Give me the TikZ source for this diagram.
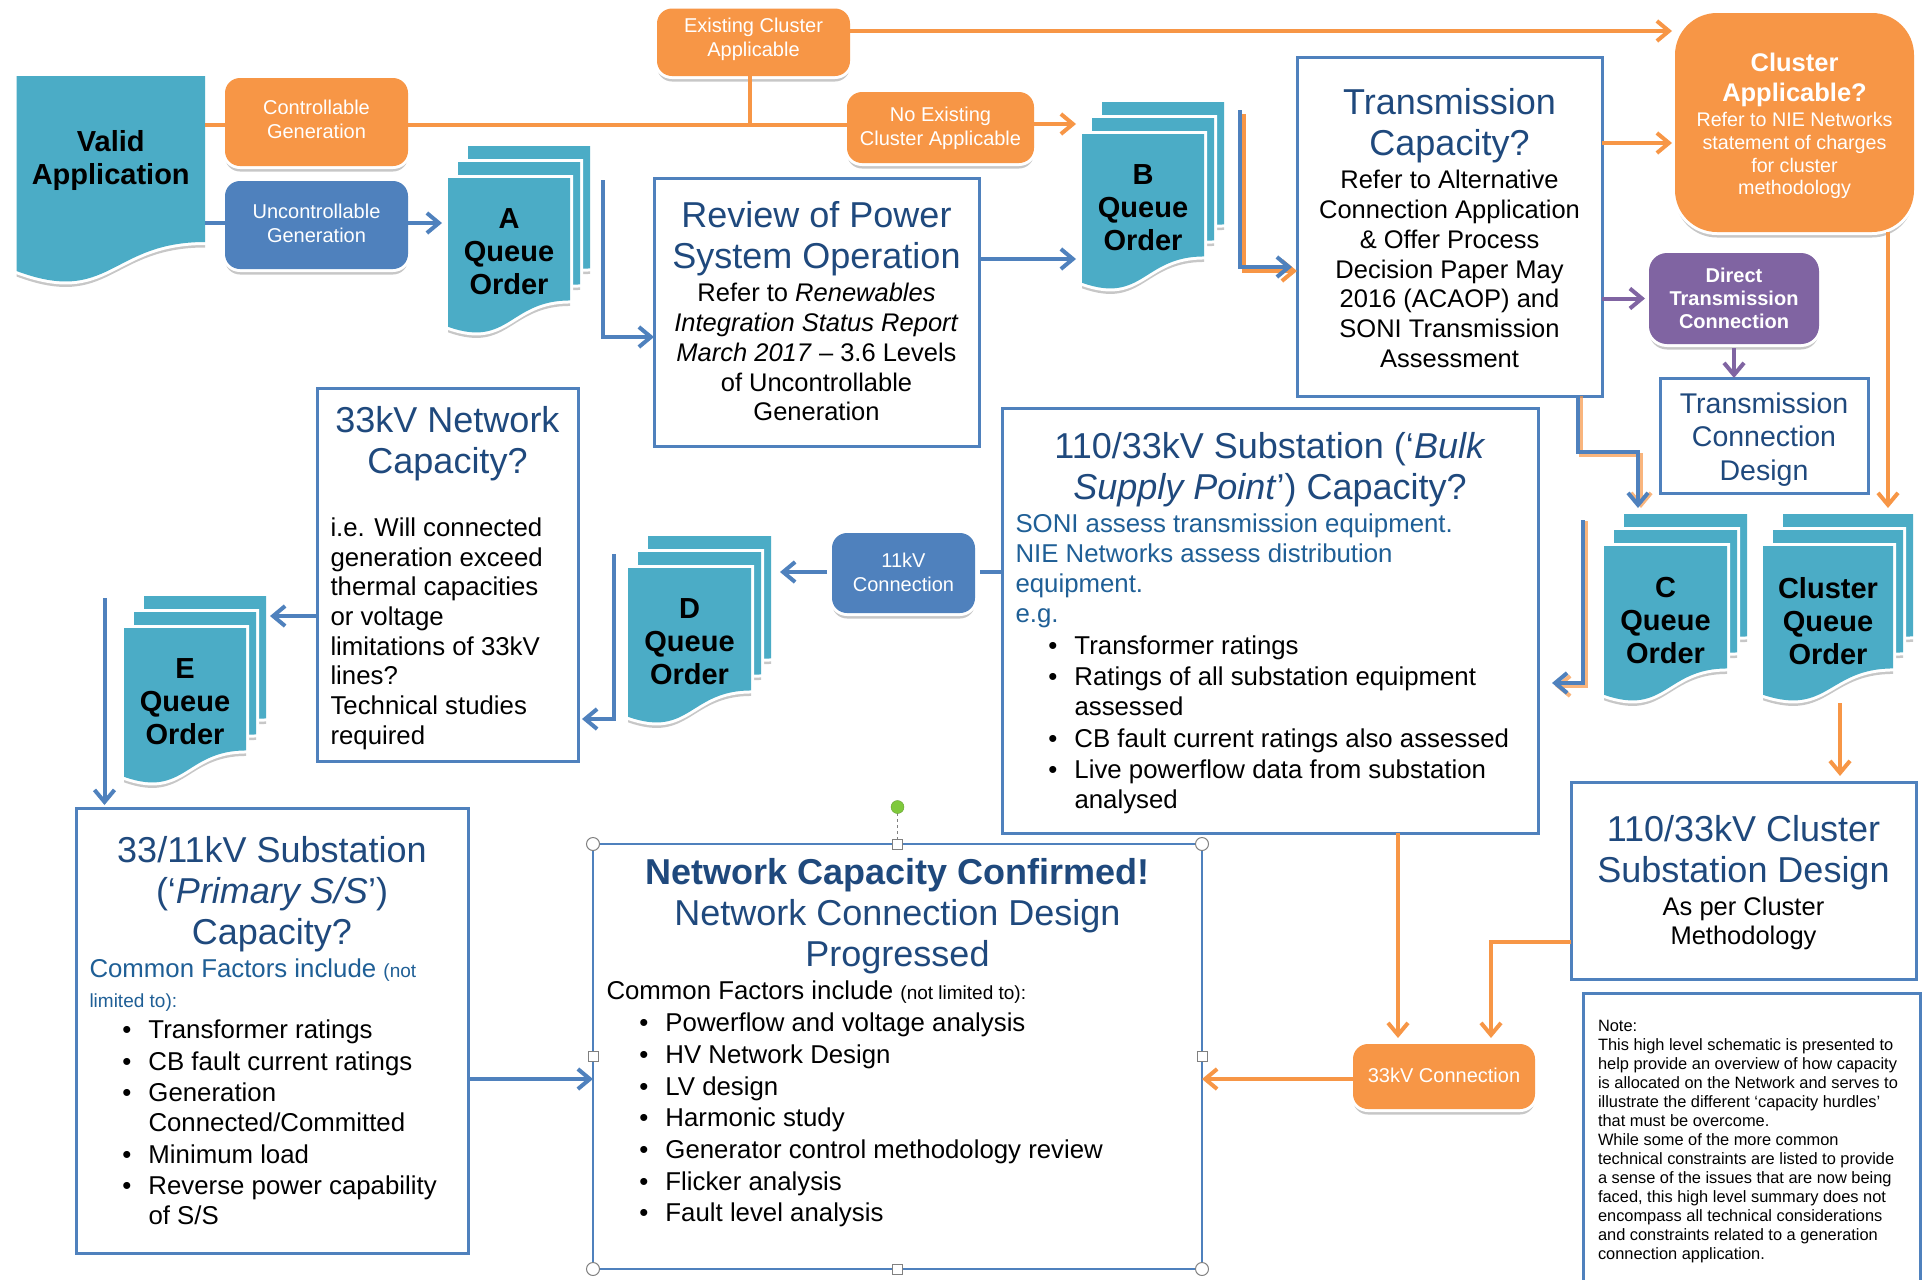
\documentclass[tikz,border=0pt]{standalone}
\usepackage{fontspec}
\setmainfont{Liberation Sans}
\usetikzlibrary{arrows.meta,shadows}
\definecolor{tb}{HTML}{1F497D}
\definecolor{mb}{HTML}{1F5F96}
\definecolor{ob}{HTML}{4F81BD}
\definecolor{oo}{HTML}{F79646}
\definecolor{pu}{HTML}{8064A2}
\definecolor{te}{HTML}{4BACC6}
\definecolor{gr}{HTML}{7FC93C}
\tikzset{
  bx/.style={rectangle,draw=ob,line width=3pt,fill=white,inner sep=0pt,outer sep=0pt},
  nb/.style={rectangle,inner sep=0pt,outer sep=0pt},
  shad/.style={drop shadow={shadow xshift=0pt,shadow yshift=-5.5pt,fill=black!40,opacity=.55}},
  wedge/.style={preaction={draw=white,line width=6pt}},
  btn/.style={rectangle,rounded corners=15pt,inner sep=0pt,outer sep=0pt,shad,wedge,text=white},
  doc/.style={shad,wedge,fill=te},
  ln/.style={line width=4pt},
  arr/.style={line width=4pt,-{Straight Barb[length=12pt,width=20pt]}},
  hcirc/.style={circle,draw=black!50,fill=white,line width=1pt,minimum size=13pt,inner sep=0pt},
  hsq/.style={rectangle,draw=black!50,fill=white,line width=1pt,minimum size=10pt,inner sep=0pt},
}
\newcommand\tbox[7][bx]{\node[#1,minimum width=#5pt,minimum height=#6pt] (#2) at ({#3+#5/2},{#4+#6/2}) {\parbox[c][#6pt][t]{#5pt}{\parindent=0pt #7}};}
\newcommand\ttl[1]{{\fontsize{36}{41}\selectfont\color{tb}\centering #1\par}}
\newcommand\bdy[1]{{\fontsize{25.5}{29.7}\selectfont\centering #1\par}}
\newcommand\lft[2][black]{{\fontsize{25.8}{29.7}\selectfont\color{#1}\raggedright\leftskip=13.5pt #2\par}}
\newcommand\itm[1]{{\fontsize{25.8}{29.7}\selectfont\raggedright\leftskip=72.5pt\noindent\llap{\textbullet\hspace{17pt}}#1\par}\vspace{2pt}}
\newcommand\sml[1]{{\fontsize{19}{29.7}\selectfont #1}}
\newcommand\btxt[2][0]{\vspace*{\fill}{\fontsize{20}{24}\selectfont\centering #2\par}\vspace{#1pt}\vspace*{\fill}}
\newcommand\gp[1]{\vspace{#1pt}}
\newcommand\docpath[4]{\path[doc] (#1,#2) -- ({#1+#3},#2) -- ({#1+#3},{#2+.79*#4}) .. controls ({#1+.5*#3},{#2+.79*#4}) and ({#1+.5*#3},{#2+1.1*#4}) .. (#1,{#2+.96*#4}) -- cycle;}
\newcommand\qtxt[1]{\vspace*{31pt}{\fontsize{29}{33}\selectfont\bfseries\centering #1\par}}
\newcommand\queue[5]{%
  \docpath{#2+20}{#3-32}{#4}{155}
  \docpath{#2+10}{#3-16}{#4}{155}
  \docpath{#2}{#3}{#4}{155}
  \tbox[nb]{#1}{#2}{#3}{#4}{155}{\qtxt{#5}}
}
\begin{document}
\begin{tikzpicture}[x=1pt,y=-1pt]
\useasboundingbox (0,0) rectangle (1923,1280);
% Valid application
\path[doc] (16.5,76) -- (205,76) -- (205,242) .. controls (110,242) and (110,306) .. (16.5,271) -- cycle;
\tbox[nb]{va}{16.5}{76}{188.5}{208}{\vspace*{54.5pt}{\fontsize{29}{33}\selectfont\bfseries\centering Valid\\Application\par}}
% buttons
\tbox[btn,fill=oo]{ctrl}{225}{78}{183}{88}{\btxt[5]{Controllable\\Generation}}
\tbox[btn,fill=ob]{unc}{225}{181}{183}{88}{\btxt[4]{Uncontrollable\\Generation}}
\tbox[btn,fill=oo]{exist}{657}{8.5}{193}{67.5}{\btxt[5]{Existing Cluster\\Applicable}}
\tbox[btn,fill=oo]{noex}{847}{92}{187}{71}{\btxt[-2.4]{No Existing\\Cluster Applicable}}
\tbox[btn,fill=pu,rounded corners=18pt]{dir}{1649}{253}{170}{91}{\vspace*{\fill}{\fontsize{20}{23}\selectfont\bfseries\centering Direct\\Transmission\\Connection\par}\vspace*{\fill}}
\tbox[btn,fill=oo,rounded corners=42pt]{clu}{1675}{13}{239}{219}{\vspace*{40.2pt}{\fontsize{25.5}{30}\selectfont\bfseries\centering Cluster\\Applicable?\par}\gp{2}{\fontsize{19.7}{22.8}\selectfont\centering Refer to NIE Networks\\statement of charges\\for cluster\\methodology\par}}
\tbox[btn,fill=ob]{elev}{832}{533}{143}{80}{\btxt[2]{11kV\\Connection}}
\tbox[btn,fill=oo]{c33}{1353}{1044}{182}{65}{\btxt[2]{33kV Connection}}
% queues
\queue{qa}{448}{178}{122}{A\\Queue\\Order}
\queue{qb}{1082}{134}{122}{B\\Queue\\Order}
\queue{qc}{1604}{546}{123}{C\\Queue\\Order}
\queue{qcl}{1763}{546}{130}{Cluster\\Queue\\Order}
\queue{qd}{628}{568}{123}{D\\Queue\\Order}
\queue{qe}{124}{628}{122}{E\\Queue\\Order}
% text boxes
\tbox{rev}{654}{178}{325}{268}{\vspace*{23.2pt}\ttl{Review of Power\\System Operation}\gp{4}\bdy{Refer to \textit{Renewables}\\\textit{Integration Status Report}\\\textit{March 2017} -- 3.6 Levels\\of Uncontrollable\\Generation}}
\tbox{tra}{1297}{57}{305}{339}{\vspace*{31.2pt}\ttl{Transmission\\Capacity?}\gp{4}\bdy{Refer to Alternative\\Connection Application\\\& Offer Process\\Decision Paper May\\2016 (ACAOP) and\\SONI Transmission\\Assessment}}
\tbox{tcd}{1660}{378}{208}{115}{\vspace*{14.5pt}{\fontsize{28.5}{33.5}\selectfont\color{tb}\centering Transmission\\Connection\\Design\par}}
\tbox{n33}{317}{388}{261}{373}{\vspace*{18.5pt}\ttl{33kV Network\\Capacity?}\gp{33.2}\lft{i.e. Will connected\\generation exceed\\thermal capacities\\or voltage\\limitations of 33kV\\lines?\\Technical studies\\required}}
\tbox{sub}{1002}{408}{536}{425}{\vspace*{24.2pt}\ttl{110/33kV Substation (‘\textit{Bulk}\\\textit{Supply Point}’) Capacity?}\gp{4}\lft[mb]{SONI assess transmission equipment.\\NIE Networks assess distribution\\equipment.\\e.g.}\gp{2.3}\itm{Transformer ratings}\itm{Ratings of all substation equipment\\assessed}\itm{CB fault current ratings also assessed}\itm{Live powerflow data from substation\\analysed}}
\tbox{cld}{1571}{782}{345}{197}{\vspace*{33.2pt}\ttl{110/33kV Cluster\\Substation Design}\gp{3.3}\bdy{As per Cluster\\Methodology}}
\tbox{pri}{76}{808}{392}{445}{\vspace*{28.2pt}\ttl{33/11kV Substation\\(‘\textit{Primary S/S}’)\\Capacity?}\gp{4}\lft[mb]{Common Factors include \sml{(not}\\\sml{limited to):}}\gp{1}\itm{Transformer ratings}\itm{CB fault current ratings}\itm{Generation\\Connected/Committed}\itm{Minimum load}\itm{Reverse power capability\\of S/S}}
\tbox[bx,line width=2.5pt]{net}{593}{844}{609}{425}{\vspace*{14.2pt}\ttl{\textbf{Network Capacity Confirmed!}\\Network Connection Design\\Progressed}\gp{4}\lft{Common Factors include \sml{(not limited to):}}\gp{2}\itm{Powerflow and voltage analysis}\itm{HV Network Design}\itm{LV design}\itm{Harmonic study}\itm{Generator control methodology review}\itm{Flicker analysis}\itm{Fault level analysis}}
\tbox{note}{1583}{993}{337}{300}{\vspace*{27pt}{\fontsize{16.4}{19}\selectfont\raggedright\leftskip=15pt Note:\\This high level schematic is presented to\\help provide an overview of how capacity\\is allocated on the Network and serves to\\illustrate the different ‘capacity hurdles’\\that must be overcome.\\While some of the more common\\technical constraints are listed to provide\\a sense of the issues that are now being\\faced, this high level summary does not\\encompass all technical considerations\\and constraints related to a generation\\connection application.\par}}
% selection handles
\coordinate (rot) at (897.5,807);
\draw[black!50,dashed,line width=1pt] (rot) -- (net.north);
\node[circle,fill=gr,draw=gr!80!black,minimum size=13pt,inner sep=0pt] (hr) at (rot) {};
\node[hcirc] (h1) at (net.north west) {};
\node[hcirc] (h2) at (net.north east) {};
\node[hcirc] (h3) at (net.south west) {};
\node[hcirc] (h4) at (net.south east) {};
\node[hsq] (h5) at (net.north) {};
\node[hsq] (h6) at (net.south) {};
\node[hsq] (h7) at (net.east) {};
\node[hsq] (h8) at (net.west) {};
% free points
\coordinate (j1) at (750,125);
\coordinate (ab) at (603,180);
\coordinate (ac) at (603,337);
\coordinate (bb) at (1240,110);
\coordinate (bc) at (1240,267);
\coordinate (bo) at (1244,114);
\coordinate (bd) at (1244,271);
\coordinate (cb) at (1583,520);
\coordinate (cc) at (1583,683);
\coordinate (ce) at (1552,683);
\coordinate (cg) at (1586,521);
\coordinate (ch) at (1586,686);
\coordinate (ci) at (1555,686);
\coordinate (db) at (614,554);
\coordinate (dc) at (614,719);
\coordinate (eb) at (104.5,598);
\coordinate (t1) at (1578,452);
\coordinate (t2) at (1638,452);
\coordinate (t3) at (1638,508);
\coordinate (o1) at (1581,455);
\coordinate (o2) at (1641,455);
\coordinate (o3) at (1641,508);
\coordinate (k1) at (1491,942);
\coordinate (s1) at (1840,703);
\coordinate (s2) at (1888,508);
% orange connectors
\draw[ln,oo] (va.east |- 0,125) -- (ctrl.west |- 0,125);
\draw[ln,oo] (ctrl.east |- 0,125) -- (noex.west |- 0,125);
\draw[ln,oo] (exist.south -| j1) -- (j1);
\draw[arr,oo] (noex.east |- 0,124) -- ([xshift=-6pt]qb.west |- 0,124);
\draw[arr,oo] (exist.east |- 0,31) -- ([xshift=-3pt]clu.west |- 0,31);
\draw[arr,oo] (tra.east |- 0,143) -- ([xshift=-3pt]clu.west |- 0,143);
\draw[arr,oo] (clu.south -| s2) -- (s2);
\draw[arr,oo] (bo) -- (bd) -- (tra.west |- bd);
\draw[arr,oo,opacity=.7] (tra.south -| o1) -- (o1) -- (o2) -- (o3);
\draw[arr,oo,opacity=.7] (cg) -- (ch) -- (ci);
\draw[arr,oo] (s1) -- ([yshift=6pt]cld.north -| s1);
\draw[arr,oo] (sub.south -| 1398,0) -- ([yshift=6pt]c33.north -| 1398,0);
\draw[arr,oo] (cld.west |- k1) -- (k1) -- ([yshift=6pt]c33.north -| k1);
\draw[arr,oo] (c33.west |- 0,1079) -- (net.east |- 0,1079);
% blue connectors
\draw[ln,ob] (va.east |- 0,223) -- (unc.west |- 0,223);
\draw[arr,ob] (unc.east |- 0,223) -- ([xshift=-6pt]qa.west |- 0,223);
\draw[arr,ob] (ab) -- (ac) -- (rev.west |- ac);
\draw[arr,ob] (rev.east |- 0,259) -- ([xshift=-6pt]qb.west |- 0,259);
\draw[arr,ob] (bb) -- (bc) -- ([xshift=-5pt]tra.west |- bc);
\draw[arr,ob] (tra.south -| t1) -- (t1) -- (t2) -- (t3);
\draw[arr,ob] (cb) -- (cc) -- (ce);
\draw[ln,ob] (sub.west |- 0,572) -- ([xshift=5pt]elev.east |- 0,572);
\draw[arr,ob] ([xshift=-5pt]elev.west |- 0,572) -- (780,572);
\draw[arr,ob] (db) -- (dc) -- ([xshift=4pt]n33.east |- dc);
\draw[arr,ob] (n33.west |- 0,616) -- (270,616);
\draw[arr,ob] (eb) -- ([yshift=3pt]pri.north -| eb);
\draw[arr,ob] (pri.east |- 0,1079) -- (net.west |- 0,1079);
% purple
\draw[arr,pu] (tra.east |- dir.west) -- ([xshift=-4pt]dir.west);
\draw[arr,pu] ([yshift=-4pt]dir.south -| 1734,0) -- (tcd.north -| 1734,0);
\end{tikzpicture}
\end{document}
